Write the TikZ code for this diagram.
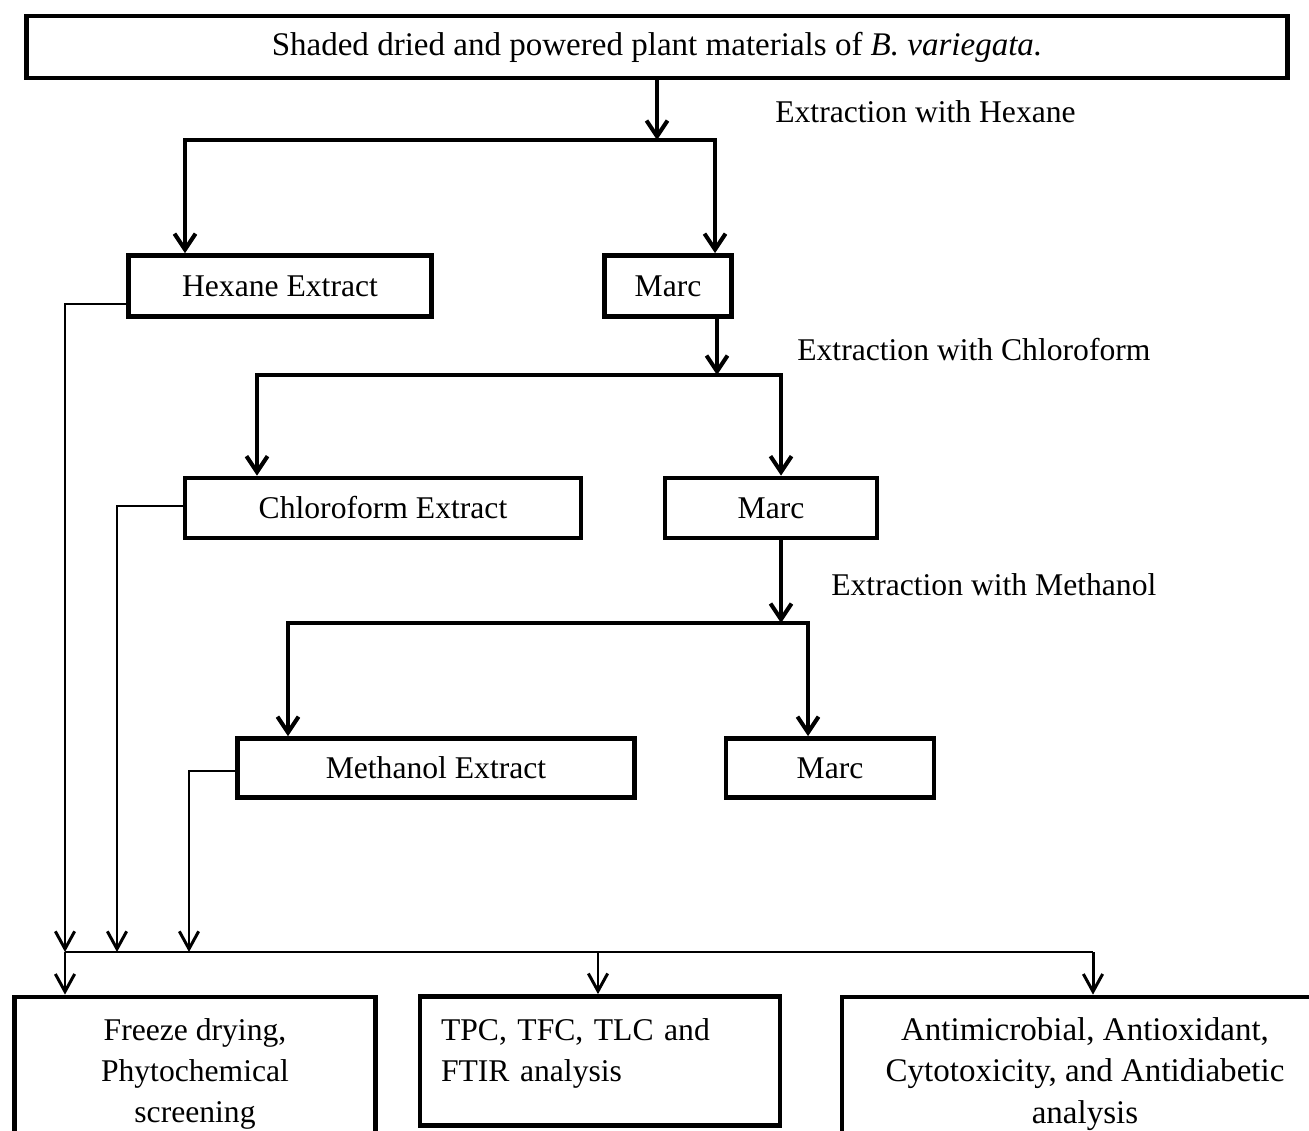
\documentclass[tikz,border=0pt]{standalone}
\usepackage{fontspec}
\setmainfont{Liberation Serif}
\usetikzlibrary{arrows.meta}

\begin{document}
\begin{tikzpicture}[x=0.02cm, y=-0.02cm, >={Straight Barb[length=9pt, width=12pt]},
		box/.style={draw, line width=2.7pt, inner sep=0pt, font=\fontsize{18}{23.5}\selectfont},
		main/.style={line width=2.3pt},
		side/.style={line width=1.7pt, >={Straight Barb[length=10pt, width=11pt]}},
		step label/.style={anchor=west, inner sep=0pt, font=\fontsize{18}{23.5}\selectfont}]
				            \useasboundingbox (0,0) rectangle (1309,1131);
				            \clip (0,0) rectangle (1309,1131);
				            \node [box, minimum width=25.22cm, minimum height=1.24cm, font=\fontsize{18.8}{23.5}\selectfont](plant) at (657,47){Shaded dried and powered plant materials of \textit{B. variegata.}};
				            \node [box, minimum width=6.06cm, minimum height=1.22cm](hex) at (280,286){Hexane Extract};
				            \node [box, minimum width=2.54cm, minimum height=1.22cm](marcA) at (668,286){Marc};
				            \node [box, minimum width=7.92cm, minimum height=1.2cm](chl) at (383,508){Chloroform Extract};
				            \node [box, minimum width=4.24cm, minimum height=1.2cm](marcB) at (771,508){Marc};
				            \node [box, minimum width=7.94cm, minimum height=1.18cm](met) at (436,768){Methanol Extract};
				            \node [box, minimum width=4.16cm, minimum height=1.18cm](marcC) at (830,768){Marc};
				            \node [box, minimum width=7.22cm, minimum height=3.08cm, align=center](fd) at (195,1074){Freeze drying,\\Phytochemical\\screening};
				            \node [box, minimum width=7.2cm, minimum height=2.58cm, text width=6.36cm, align=left, text depth=36pt](tpc) at (600,1061){TPC, TFC, TLC and\\FTIR analysis};
				            \node [box, minimum width=9.72cm, minimum height=3.08cm, align=center, font=\fontsize{18.8}{23.5}\selectfont](bio) at (1085,1074){Antimicrobial, Antioxidant,\\Cytotoxicity, and Antidiabetic\\analysis};
				            \node [step label](exh) at (775,112){Extraction with Hexane};
				            \node [step label](exc) at (797,350){Extraction with Chloroform};
				            \node [step label](exm) at (831,585){Extraction with Methanol};
				            \coordinate (s1) at (657,140);
				            \coordinate (s1l) at (185,140);
				            \coordinate (s1r) at (715,140);
				            \coordinate (s2) at (717,375);
				            \coordinate (s2l) at (257,375);
				            \coordinate (s2r) at (781,375);
				            \coordinate (s3) at (781,623);
				            \coordinate (s3l) at (288,623);
				            \coordinate (s3r) at (808,623);
				            \draw [main, ->](plant.south) -- (s1);
				            \draw [main, <->](s1l |- hex.north) -- (s1l) -- (s1r) -- (s1r |- marcA.north);
				            \draw [main, ->](s2 |- marcA.south) -- (s2);
				            \draw [main, <->](s2l |- chl.north) -- (s2l) -- (s2r) -- (s2r |- marcB.north);
				            \draw [main, ->](s3 |- marcB.south) -- (s3);
				            \draw [main, <->](s3l |- met.north) -- (s3l) -- (s3r) -- (s3r |- marcC.north);
				            \coordinate (e1) at (65,304);
				            \coordinate (e2) at (117,506);
				            \coordinate (e3) at (189,771);
				            \coordinate (k1) at (65,952);
				            \coordinate (k2) at (117,952);
				            \coordinate (k3) at (189,952);
				            \coordinate (k4) at (598,952);
				            \coordinate (k5) at (1093,952);
				            \draw [side, ->](e1 -| hex.west) -- (e1) -- (k1);
				            \draw [side, ->](e2 -| chl.west) -- (e2) -- (k2);
				            \draw [side, ->](e3 -| met.west) -- (e3) -- (k3);
				            \draw [side](k1) -- (k5);
				            \draw [side, ->](k1) -- (k1 |- fd.north);
				            \draw [side, ->](k4) -- (k4 |- tpc.north);
				            \draw [side, ->](k5) -- (k5 |- bio.north);
			            \end{tikzpicture}
\end{document}
